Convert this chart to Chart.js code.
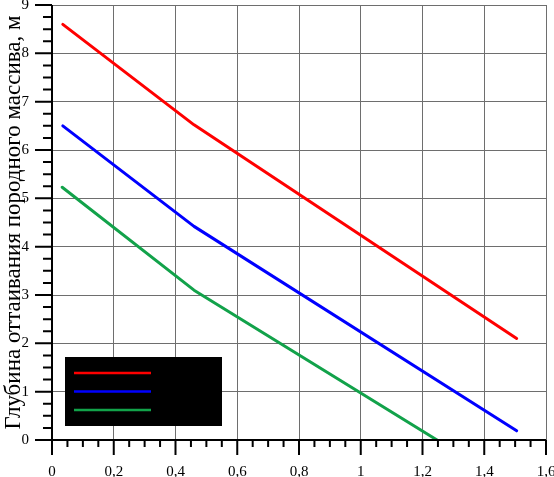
<!DOCTYPE html>
<html>
<head>
<meta charset="utf-8">
<script src="https://cdn.jsdelivr.net/npm/chart.js@4"></script>
<style>
  html, body { margin: 0; padding: 0; background: #fff; }
  #wrap { width: 554px; height: 477px; }
</style>
</head>
<body>
<div id="wrap"><canvas id="chart"></canvas></div>
<script>
'use strict';

// values
const redX = [0.035, 0.46, 1.505];
const redY = [8.6, 6.52, 2.1];
const blueX = [0.035, 0.46, 1.505];
const blueY = [6.5, 4.42, 0.19];
const greenX = [0.033, 0.46, 1.247];
const greenY = [5.23, 3.1, 0];

const xTicks = [0, 0.2, 0.4, 0.6, 0.8, 1, 1.2, 1.4, 1.6];
const yTicks = [0, 1, 2, 3, 4, 5, 6, 7, 8, 9];
const yTitle = 'Глубина оттаивания породного массива, м';

const serif = '"Liberation Serif", "DejaVu Serif", serif';

function toPoints(xs, ys) {
  return xs.map(function (x, i) {
    return { x: x, y: ys[i] };
  });
}

function fmt(v) {
  return String(Number(v.toFixed(2))).replace('.', ',');
}

// minor/major ticks and axis lines, drawn outside the plot like the original
const axisTicks = {
  id: 'axisTicks',
  afterDatasetsDraw(chart) {
    const ctx = chart.ctx;
    const area = chart.chartArea;
    const xs = chart.scales.x;
    const ys = chart.scales.y;
    ctx.save();
    ctx.strokeStyle = '#000';
    ctx.lineWidth = 2;

    ctx.beginPath();
    ctx.moveTo(area.left, area.top);
    ctx.lineTo(area.left, area.bottom);
    ctx.moveTo(area.left, area.bottom);
    ctx.lineTo(area.right, area.bottom);

    for (let i = 0; i <= 32; i++) {
      const px = xs.getPixelForValue(i * 0.05);
      const len = i % 4 === 0 ? 15 : 7;
      ctx.moveTo(px, area.bottom);
      ctx.lineTo(px, area.bottom + len);
    }
    for (let i = 0; i <= 36; i++) {
      const py = ys.getPixelForValue(i * 0.25);
      const len = i % 4 === 0 ? 17 : 9;
      ctx.moveTo(area.left, py);
      ctx.lineTo(area.left - len, py);
    }
    ctx.stroke();
    ctx.restore();
  }
};

// black legend box as in the picture (its labels are black on black)
const boxLegend = {
  id: 'boxLegend',
  afterDatasetsDraw(chart) {
    const ctx = chart.ctx;
    const area = chart.chartArea;
    const left = area.left + 13;
    const top = area.bottom - 83;
    ctx.save();
    ctx.fillStyle = '#000';
    ctx.fillRect(left, top, 157, 69);
    chart.data.datasets.forEach(function (ds, i) {
      const y = top + 16 + i * 18.5;
      ctx.strokeStyle = ds.borderColor;
      ctx.lineWidth = 2.5;
      ctx.beginPath();
      ctx.moveTo(left + 9, y);
      ctx.lineTo(left + 86, y);
      ctx.stroke();
      ctx.fillStyle = '#000';
      ctx.font = '14px ' + serif;
      ctx.textBaseline = 'middle';
      ctx.fillText(ds.label, left + 92, y);
    });
    ctx.restore();
  }
};

const ctx = document.getElementById('chart').getContext('2d');
new Chart(ctx, {
  type: 'line',
  data: {
    datasets: [
      { label: '1', data: toPoints(redX, redY), borderColor: '#ff0000' },
      { label: '2', data: toPoints(blueX, blueY), borderColor: '#0000ff' },
      { label: '3', data: toPoints(greenX, greenY), borderColor: '#12a24a' }
    ]
  },
  options: {
    responsive: true,
    maintainAspectRatio: false,
    animation: false,
    layout: { padding: { top: 5, right: 8, left: 0, bottom: 0 } },
    elements: {
      line: { borderWidth: 3, tension: 0, borderCapStyle: 'round', borderJoinStyle: 'round' },
      point: { radius: 0 }
    },
    plugins: {
      legend: { display: false },
      tooltip: { enabled: false }
    },
    scales: {
      x: {
        type: 'linear',
        min: 0,
        max: 1.6,
        afterBuildTicks(scale) {
          scale.ticks = xTicks.map(function (v) { return { value: v }; });
        },
        afterFit(scale) {
          scale.height = 37;
          scale.paddingLeft = 0;
          scale.paddingRight = 0;
        },
        grid: { color: '#6e6e6e', lineWidth: 1, drawTicks: false },
        border: { display: false },
        ticks: {
          padding: 23,
          color: '#000',
          font: { family: serif, size: 15 },
          maxRotation: 0,
          callback: function (v) { return fmt(v); }
        }
      },
      y: {
        type: 'linear',
        min: 0,
        max: 9,
        afterBuildTicks(scale) {
          scale.ticks = yTicks.map(function (v) { return { value: v }; });
        },
        afterFit(scale) {
          scale.width = 52;
          scale.paddingTop = 0;
          scale.paddingBottom = 0;
        },
        grid: { color: '#6e6e6e', lineWidth: 1, drawTicks: false },
        border: { display: false },
        title: {
          display: true,
          text: yTitle,
          color: '#000',
          font: { family: serif, size: 23 },
          padding: { top: 0, bottom: 0 }
        },
        ticks: {
          padding: 23,
          color: '#000',
          font: { family: serif, size: 15 },
          callback: function (v) { return fmt(v); }
        }
      }
    }
  },
  plugins: [axisTicks, boxLegend]
});
</script>
</body>
</html>
